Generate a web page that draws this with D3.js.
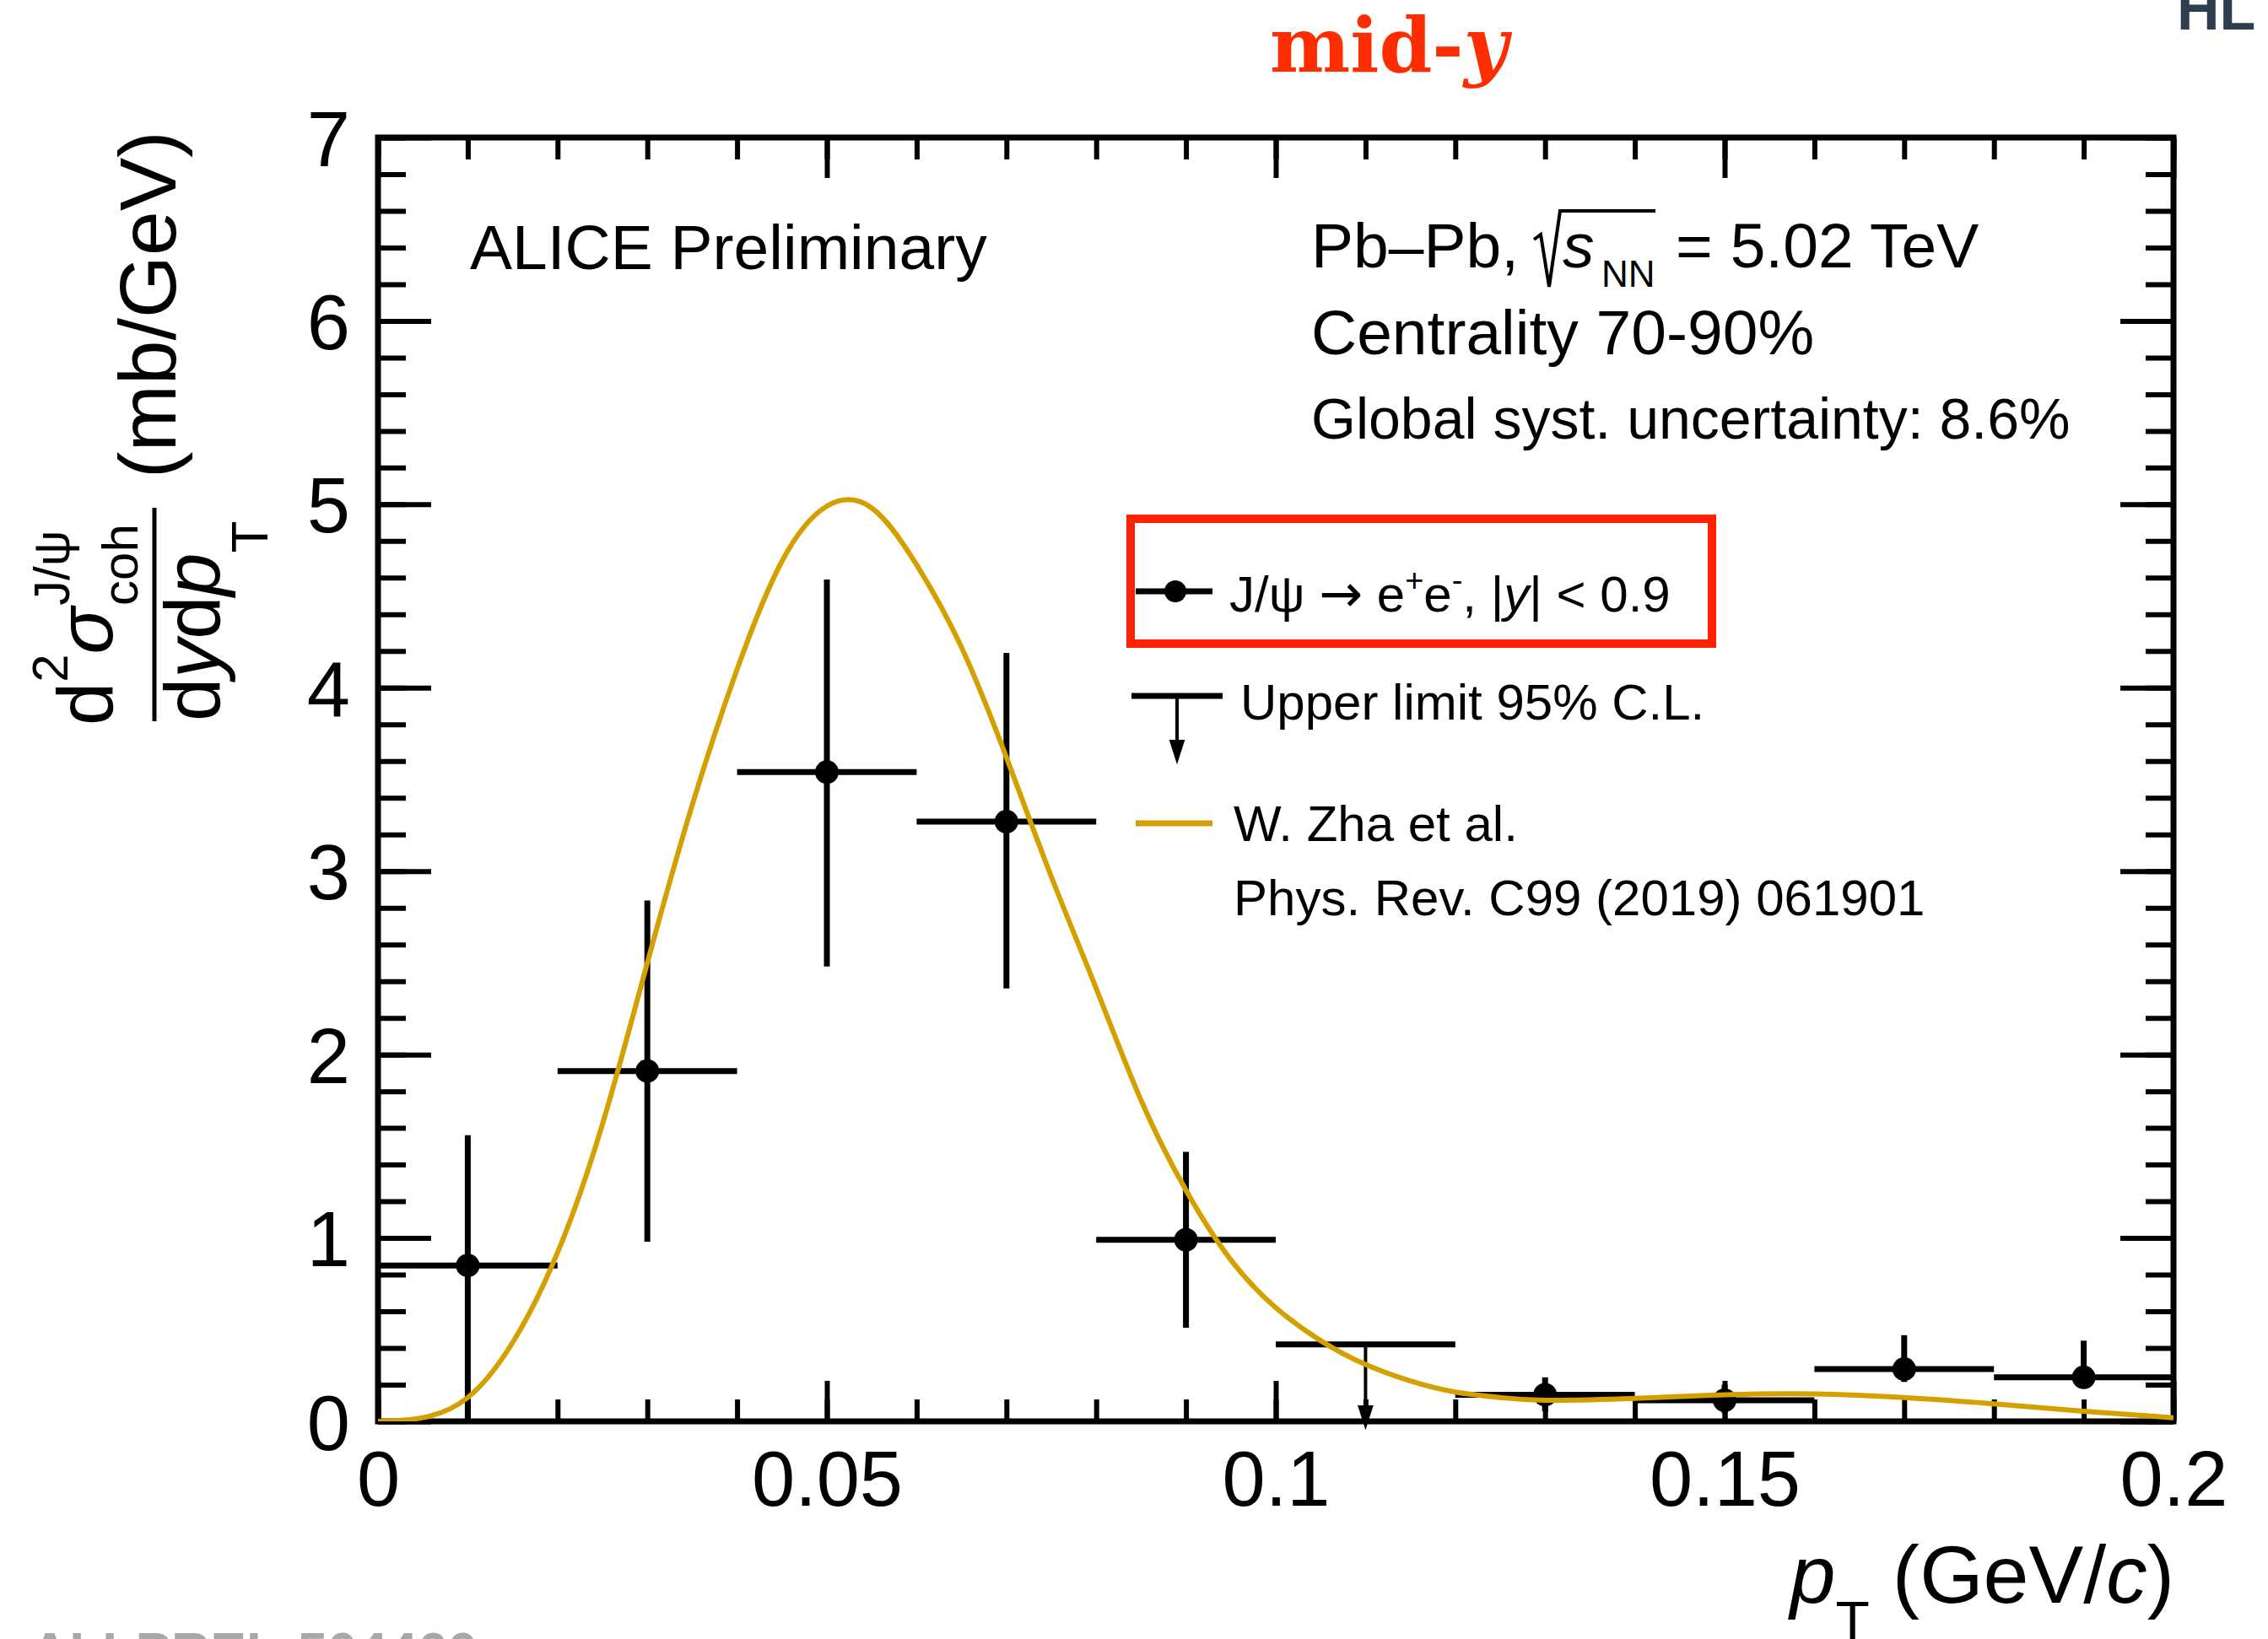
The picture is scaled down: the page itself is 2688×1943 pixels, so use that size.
<!DOCTYPE html>
<html>
<head>
<meta charset="utf-8">
<script src="https://cdn.jsdelivr.net/npm/d3@7"></script>
<style>
body { margin: 0; background: #fff; }
svg { display: block; }
</style>
</head>
<body>
<svg id="chart" width="2688" height="1943"></svg>
<script>
const FONT = '"Liberation Sans", Arial, Helvetica, sans-serif';

// axis ticks
const xTickValues = [0, 0.05, 0.1, 0.15, 0.2];
const xTickLabels = ['0', '0.05', '0.1', '0.15', '0.2'];
const yTickValues = [0, 1, 2, 3, 4, 5, 6, 7];
const yTickLabels = ['0', '1', '2', '3', '4', '5', '6', '7'];

// J/psi -> e+e- points (GeV/c, mb/GeV)
const binCenter = [0.01, 0.03, 0.05, 0.07, 0.09, 0.13, 0.15, 0.17, 0.19];
const crossSection = [0.85, 1.91, 3.54, 3.27, 0.99, 0.145, 0.115, 0.285, 0.24];
const errHigh = [0.71, 0.93, 1.05, 0.92, 0.48, 0.095, 0.085, 0.185, 0.20];
const errLow = [0.85, 0.93, 1.06, 0.91, 0.48, 0.09, 0.07, 0.07, 0.06];
const binHalfWidth = 0.01;

// upper limit 95% C.L.
const limitCenter = [0.11];
const limitValue = [0.42];

// W. Zha et al. model curve
const modelPt = [0, 0.005, 0.01, 0.015, 0.02, 0.025, 0.03, 0.035, 0.04, 0.045, 0.05, 0.055,
    0.06, 0.065, 0.07, 0.075, 0.08, 0.085, 0.09, 0.095, 0.1, 0.105, 0.11, 0.115, 0.12, 0.125,
    0.13, 0.14, 0.15, 0.16, 0.17, 0.18, 0.19, 0.2];
const modelValue = [0, 0.02, 0.13, 0.43, 0.92, 1.62, 2.50, 3.36, 4.10, 4.69, 4.99, 4.98,
    4.67, 4.22, 3.62, 2.97, 2.36, 1.75, 1.26, 0.88, 0.62, 0.44, 0.31, 0.22, 0.16, 0.13,
    0.115, 0.125, 0.145, 0.15, 0.13, 0.095, 0.055, 0.02];

const svg = d3.select('#chart');
const frame = { left: 448, right: 2576, top: 163, bottom: 1685 };

const x = d3.scaleLinear().domain([0, 0.2]).range([frame.left, frame.right]);
const y = d3.scaleLinear().domain([0, 7]).range([frame.bottom, frame.top]);

const xMinor = d3.range(0, 0.2001, 0.01);
const yMinor = d3.range(0, 7.001, 0.2);

function styleTicks(g, width) {
    g.select('.domain').remove();
    g.selectAll('.tick line').attr('stroke', '#000').attr('stroke-width', width);
    g.attr('font-family', FONT).attr('font-size', 92);
    g.selectAll('.tick text').attr('fill', '#000');
}

// bottom
svg.append('g').attr('transform', `translate(0,${frame.bottom})`)
    .call(d3.axisBottom(x).tickValues(xMinor).tickFormat('').tickSize(-26))
    .call(g => styleTicks(g, 6));
svg.append('g').attr('transform', `translate(0,${frame.bottom})`)
    .call(d3.axisBottom(x).tickValues(xTickValues).tickFormat((d, i) => xTickLabels[i]).tickSize(-48))
    .call(g => styleTicks(g, 6))
    .call(g => g.selectAll('.tick text').attr('y', 100).attr('dy', 0));
// top
svg.append('g').attr('transform', `translate(0,${frame.top})`)
    .call(d3.axisTop(x).tickValues(xMinor).tickFormat('').tickSize(-26))
    .call(g => styleTicks(g, 6));
svg.append('g').attr('transform', `translate(0,${frame.top})`)
    .call(d3.axisTop(x).tickValues(xTickValues).tickFormat('').tickSize(-48))
    .call(g => styleTicks(g, 6));
// left
svg.append('g').attr('transform', `translate(${frame.left},0)`)
    .call(d3.axisLeft(y).tickValues(yMinor).tickFormat('').tickSize(-33))
    .call(g => styleTicks(g, 6));
svg.append('g').attr('transform', `translate(${frame.left},0)`)
    .call(d3.axisLeft(y).tickValues(yTickValues).tickFormat((d, i) => yTickLabels[i]).tickSize(-63).tickPadding(33))
    .call(g => styleTicks(g, 6))
    .call(g => g.selectAll('.tick text').attr('dy', '0.36em'));
// right
svg.append('g').attr('transform', `translate(${frame.right},0)`)
    .call(d3.axisRight(y).tickValues(yMinor).tickFormat('').tickSize(-33))
    .call(g => styleTicks(g, 6));
svg.append('g').attr('transform', `translate(${frame.right},0)`)
    .call(d3.axisRight(y).tickValues(yTickValues).tickFormat('').tickSize(-63))
    .call(g => styleTicks(g, 6));

svg.append('rect')
    .attr('x', frame.left).attr('y', frame.top)
    .attr('width', frame.right - frame.left).attr('height', frame.bottom - frame.top)
    .attr('fill', 'none').attr('stroke', '#000').attr('stroke-width', 7);

// data points
const points = binCenter.map((c, i) => ({ c, v: crossSection[i], hi: errHigh[i], lo: errLow[i] }));
const pts = svg.append('g').attr('stroke', '#000').attr('stroke-width', 7);
pts.selectAll('line.h').data(points).enter().append('line')
    .attr('x1', d => x(d.c - binHalfWidth)).attr('x2', d => x(d.c + binHalfWidth))
    .attr('y1', d => y(d.v)).attr('y2', d => y(d.v));
pts.selectAll('line.v').data(points).enter().append('line')
    .attr('x1', d => x(d.c)).attr('x2', d => x(d.c))
    .attr('y1', d => y(d.v - d.lo)).attr('y2', d => y(d.v + d.hi));
pts.selectAll('circle').data(points).enter().append('circle')
    .attr('cx', d => x(d.c)).attr('cy', d => y(d.v)).attr('r', 14)
    .attr('fill', '#000').attr('stroke', 'none');

// upper limits
const ul = svg.append('g').attr('stroke', '#000');
limitCenter.forEach((c, i) => {
    ul.append('line').attr('stroke-width', 7)
        .attr('x1', x(c - binHalfWidth)).attr('x2', x(c + binHalfWidth))
        .attr('y1', y(limitValue[i])).attr('y2', y(limitValue[i]));
    ul.append('line').attr('stroke-width', 4)
        .attr('x1', x(c)).attr('x2', x(c))
        .attr('y1', y(limitValue[i])).attr('y2', y(0) - 4);
    ul.append('path').attr('stroke-width', 2).attr('fill', '#000')
        .attr('d', `M${x(c) - 8},${y(0) - 18} L${x(c)},${y(0) + 7} L${x(c) + 8},${y(0) - 18} Z`);
});

// model curve
svg.append('clipPath').attr('id', 'frameClip').append('rect')
    .attr('x', frame.left).attr('y', frame.top)
    .attr('width', frame.right - frame.left).attr('height', frame.bottom - frame.top);
const modelLine = d3.line()
    .curve(d3.curveNatural)
    .x((d, i) => x(modelPt[i]))
    .y(d => y(d));
svg.append('path')
    .attr('d', modelLine(modelValue))
    .attr('clip-path', 'url(#frameClip)')
    .attr('fill', 'none')
    .attr('stroke', '#d4a000')
    .attr('stroke-width', 6);

// texts inside frame
function txt(px, py, size, str) {
    return svg.append('text').attr('x', px).attr('y', py)
        .attr('font-family', FONT).attr('font-size', size).attr('fill', '#000').text(str);
}
txt(557, 319, 75, 'ALICE Preliminary');
txt(1554, 317, 75, 'Pb\u2013Pb,');
svg.append('path')
    .attr('d', 'M1818,284 L1826,278 L1836,340 L1849,250 L1962,250')
    .attr('fill', 'none').attr('stroke', '#000').attr('stroke-width', 4);
txt(1852, 317, 75, 's').attr('font-style', 'italic');
txt(1898, 340, 44, 'NN');
txt(1986, 317, 75, '= 5.02 TeV');
txt(1554, 420, 75, 'Centrality 70-90%');
txt(1554, 520, 68, 'Global syst. uncertainty: 8.6%');

// legend
svg.append('rect')
    .attr('x', 1340).attr('y', 615).attr('width', 689).attr('height', 148)
    .attr('fill', 'none').attr('stroke', '#ff2200').attr('stroke-width', 10);
svg.append('line').attr('x1', 1346).attr('x2', 1437).attr('y1', 701).attr('y2', 701)
    .attr('stroke', '#000').attr('stroke-width', 7);
svg.append('circle').attr('cx', 1393).attr('cy', 701).attr('r', 13).attr('fill', '#000');
const l1 = txt(1457, 725, 60, null);
l1.append('tspan').text('J/\u03C8 ');
l1.append('tspan').attr('font-family', '"DejaVu Sans", sans-serif').attr('font-size', 62).text('\u2192');
l1.append('tspan').text(' e');
l1.append('tspan').attr('font-size', 38).attr('dy', -24).text('+');
l1.append('tspan').attr('dy', 24).text('e');
l1.append('tspan').attr('font-size', 38).attr('dy', -24).text('-');
l1.append('tspan').attr('dy', 24).text(', |');
l1.append('tspan').attr('font-style', 'italic').text('y');
l1.append('tspan').text('| < 0.9');

svg.append('line').attr('x1', 1341).attr('x2', 1449).attr('y1', 825).attr('y2', 825)
    .attr('stroke', '#000').attr('stroke-width', 7);
svg.append('line').attr('x1', 1395).attr('x2', 1395).attr('y1', 825).attr('y2', 885)
    .attr('stroke', '#000').attr('stroke-width', 4);
svg.append('path').attr('d', 'M1387,878 L1395,903 L1403,878 Z')
    .attr('fill', '#000').attr('stroke', '#000').attr('stroke-width', 2);
txt(1470, 853, 60, 'Upper limit 95% C.L.');

svg.append('line').attr('x1', 1346).attr('x2', 1437).attr('y1', 976).attr('y2', 976)
    .attr('stroke', '#d4a000').attr('stroke-width', 7);
txt(1462, 997, 60, 'W. Zha et al.');
txt(1462, 1085, 60, 'Phys. Rev. C99 (2019) 061901');

// x title
const xt = svg.append('text').attr('x', 2577).attr('y', 1900).attr('text-anchor', 'end')
    .attr('font-family', FONT).attr('font-size', 97).attr('fill', '#000');
xt.append('tspan').attr('font-style', 'italic').text('p');
xt.append('tspan').attr('font-size', 66).attr('dy', 45).text('T');
xt.append('tspan').attr('dy', -45).text(' (GeV/');
xt.append('tspan').attr('font-style', 'italic').text('c');
xt.append('tspan').text(')');

// y title, rotated: local x = -pageY, local y = pageX
const yt = svg.append('g').attr('transform', 'rotate(-90)')
    .attr('font-family', FONT).attr('fill', '#000');
function ytxt(lx, ly, size, str, italic) {
    const t = yt.append('text').attr('x', lx).attr('y', ly).attr('font-size', size).text(str);
    if (italic) t.attr('font-style', 'italic');
    return t;
}
let e = -860;
let t = ytxt(e, 133, 92, 'd'); e += t.node().getComputedTextLength();
t = ytxt(e, 80, 60, '2'); e += t.node().getComputedTextLength();
t = ytxt(e, 133, 92, '\u03C3', true); e += t.node().getComputedTextLength() + 2;
ytxt(e, 82, 60, 'J/\u03C8');
ytxt(e, 163, 60, 'coh');
yt.append('line').attr('x1', -855).attr('x2', -602).attr('y1', 183).attr('y2', 183)
    .attr('stroke', '#000').attr('stroke-width', 5);
e = -855;
t = ytxt(e, 260, 92, 'd'); e += t.node().getComputedTextLength();
t = ytxt(e, 260, 92, 'y', true); e += t.node().getComputedTextLength();
t = ytxt(e, 260, 92, 'd'); e += t.node().getComputedTextLength();
t = ytxt(e, 260, 92, 'p', true); e += t.node().getComputedTextLength();
ytxt(e, 317, 62, 'T');
ytxt(-567, 208, 95, '(mb/GeV)');

// header bits
const title = svg.append('text').attr('x', 1646).attr('y', 85).attr('text-anchor', 'middle')
    .attr('font-family', '"DejaVu Serif", serif').attr('font-weight', 'bold')
    .attr('font-size', 90).attr('fill', '#fe2d00');
title.append('tspan').text('mid-');
title.append('tspan').attr('font-style', 'italic').text('y');

svg.append('text').attr('x', 2580).attr('y', 35)
    .attr('font-family', FONT).attr('font-weight', 'bold').attr('font-size', 70)
    .attr('fill', '#2c3e50').text('HL');
svg.append('text').attr('x', 36).attr('y', 1981)
    .attr('font-family', FONT).attr('font-weight', 'bold').attr('font-size', 64)
    .attr('fill', '#a8a8a8').text('ALI-PREL-504460');
</script>
</body>
</html>
